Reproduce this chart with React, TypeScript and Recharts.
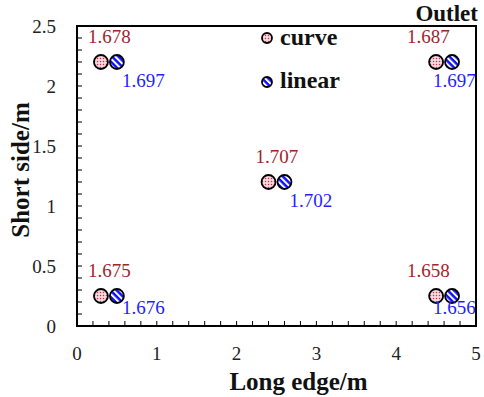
import React from 'react';
import { ScatterChart, Scatter, XAxis, YAxis, ReferenceArea, Legend } from 'recharts';

const curveX = [0.3, 2.4, 4.5, 0.3, 4.5];
const curveY = [2.2, 1.2, 2.2, 0.25, 0.25];
const curveVal = [1.678, 1.707, 1.687, 1.675, 1.658];

const linearX = [0.5, 2.6, 4.7, 0.5, 4.7];
const linearY = [2.2, 1.2, 2.2, 0.25, 0.25];
const linearVal = [1.697, 1.702, 1.697, 1.676, 1.656];

const xTicks = [0, 0.2, 0.4, 0.6, 0.8, 1, 1.2, 1.4, 1.6, 1.8, 2, 2.2, 2.4, 2.6, 2.8, 3, 3.2, 3.4, 3.6, 3.8, 4, 4.2, 4.4, 4.6, 4.8, 5];
const xTickLabels = [0, 1, 2, 3, 4, 5];
const yTicks = [0, 0.1, 0.2, 0.3, 0.4, 0.5, 0.6, 0.7, 0.8, 0.9, 1, 1.1, 1.2, 1.3, 1.4, 1.5, 1.6, 1.7, 1.8, 1.9, 2, 2.1, 2.2, 2.3, 2.4, 2.5];
const yTickLabels = [0, 0.5, 1, 1.5, 2, 2.5];

const seriesNames = ['curve', 'linear'];
const xTitle = 'Long edge/m';
const yTitle = 'Short side/m';
const chartTitle = 'Outlet';

const curveData = curveX.map((x, i) => ({ x, y: curveY[i], v: curveVal[i] }));
const linearData = linearX.map((x, i) => ({ x, y: linearY[i], v: linearVal[i] }));

const SERIF = '"Liberation Serif", "Times New Roman", serif';
const RED = '#a0252b';
const BLUE = '#1f1fff';

const CurveShape = (props: any) => {
  const { cx, cy, payload } = props;
  const right = cx > 400;
  return (
    <g>
      <circle cx={cx} cy={cy} r={7} fill="url(#dotsPat)" stroke="#000" strokeWidth={1.8} />
      <text x={cx + (right ? -29 : -13)} y={cy - 19} fill={RED} fontSize={19} fontFamily={SERIF}>
        {payload.v.toFixed(3)}
      </text>
    </g>
  );
};

const LinearShape = (props: any) => {
  const { cx, cy, payload } = props;
  const right = cx > 400;
  const bottom = cy > 270;
  return (
    <g>
      <circle cx={cx} cy={cy} r={7} fill="url(#stripePat)" stroke="#000" strokeWidth={1.8} />
      <text x={cx + (right ? -19 : 5)} y={cy + (bottom ? 18 : 25)} fill={BLUE} fontSize={19} fontFamily={SERIF}>
        {payload.v.toFixed(3)}
      </text>
    </g>
  );
};

const XTick = (p: any) => {
  const { x, y, payload } = p;
  const v = payload.value;
  const major = xTickLabels.includes(v);
  return (
    <g>
      <line x1={x} x2={x} y1={y} y2={y - 5} stroke="#000" strokeWidth={1} />
      {major && (
        <text x={x} y={y + 34} textAnchor="middle" fontSize={19} fontFamily={SERIF} fill="#222">
          {v}
        </text>
      )}
    </g>
  );
};

const YTick = (p: any) => {
  const { x, y, payload } = p;
  const v = payload.value;
  const major = yTickLabels.includes(v);
  return (
    <g>
      <line x1={x} x2={x + 5} y1={y} y2={y} stroke="#000" strokeWidth={1} />
      {major && (
        <text x={x - 21} y={y + 6.5} textAnchor="end" fontSize={19} fontFamily={SERIF} fill="#222">
          {v}
        </text>
      )}
    </g>
  );
};

const XTitle = (p: any) => {
  const vb = p.viewBox || {};
  return (
    <text x={vb.x + vb.width / 2 + 22} y={vb.y + 64} textAnchor="middle" fontSize={25} fontWeight="bold" fontFamily={SERIF} fill="#111">
      {xTitle}
    </text>
  );
};

const YTitle = (p: any) => {
  const vb = p.viewBox || {};
  const cy = vb.y + vb.height / 2 - 6;
  return (
    <text transform={`translate(${vb.x + vb.width - 48}, ${cy}) rotate(-90)`} textAnchor="middle" fontSize={25} fontWeight="bold" fontFamily={SERIF} fill="#111">
      {yTitle}
    </text>
  );
};

const TitleLabel = (p: any) => {
  const vb = p.viewBox || {};
  return (
    <text x={vb.x + vb.width + 2} y={vb.y - 5} textAnchor="end" fontSize={23} fontWeight="bold" fontFamily={SERIF} fill="#111">
      {chartTitle}
    </text>
  );
};

const LegendContent = () => (
  <svg width={110} height={75} style={{ display: 'block' }}>
    <circle cx={12} cy={13} r={5} fill="url(#dotsPat)" stroke="#000" strokeWidth={1.8} />
    <text x={25} y={20} fontSize={24} fontWeight="bold" fontFamily={SERIF} fill="#111">{seriesNames[0]}</text>
    <circle cx={12} cy={57} r={5} fill="url(#stripePat)" stroke="#000" strokeWidth={1.8} />
    <text x={25} y={63} fontSize={24} fontWeight="bold" fontFamily={SERIF} fill="#111">{seriesNames[1]}</text>
  </svg>
);

export default function App() {
  return (
    <div style={{ position: 'absolute', left: 0, top: 0, width: 484, height: 397, background: '#fff' }}>
      <svg width={0} height={0} style={{ position: 'absolute' }}>
        <defs>
          <pattern id="dotsPat" patternUnits="userSpaceOnUse" width={3} height={3}>
            <rect width={3} height={3} fill="#f7d9df" />
            <circle cx={1.5} cy={1.5} r={0.75} fill="#c8324f" />
          </pattern>
          <pattern id="stripePat" patternUnits="userSpaceOnUse" width={4.5} height={4.5} patternTransform="rotate(-45)">
            <rect width={4.5} height={4.5} fill="#1010ff" />
            <rect x={0} y={0} width={2} height={4.5} fill="#ffffff" />
          </pattern>
        </defs>
      </svg>
      <ScatterChart width={484} height={397} margin={{ top: 26, right: 8, bottom: 70, left: 76 }}>
        <XAxis
          type="number"
          dataKey="x"
          domain={[0, 5]}
          ticks={xTicks}
          interval={0}
          height={1}
          tickSize={0}
          tickMargin={0}
          axisLine={false}
          tickLine={false}
          tick={<XTick />}
          allowDataOverflow
          label={<XTitle />}
        />
        <YAxis
          type="number"
          dataKey="y"
          domain={[0, 2.5]}
          ticks={yTicks}
          interval={0}
          width={1}
          tickSize={0}
          tickMargin={0}
          axisLine={false}
          tickLine={false}
          tick={<YTick />}
          allowDataOverflow
          label={<YTitle />}
        />
        <ReferenceArea x1={0} x2={5} y1={0} y2={2.5} fill="none" stroke="#000" strokeWidth={2} fillOpacity={0} ifOverflow="visible" label={<TitleLabel />} />
        <Legend
          layout="vertical"
          align="center"
          verticalAlign="middle"
          content={<LegendContent />}
          wrapperStyle={{ position: 'absolute', left: 255, top: 25, width: 110, height: 75 }}
        />
        <Scatter name={seriesNames[0]} data={curveData} shape={<CurveShape />} isAnimationActive={false} />
        <Scatter name={seriesNames[1]} data={linearData} shape={<LinearShape />} isAnimationActive={false} />
      </ScatterChart>
    </div>
  );
}
